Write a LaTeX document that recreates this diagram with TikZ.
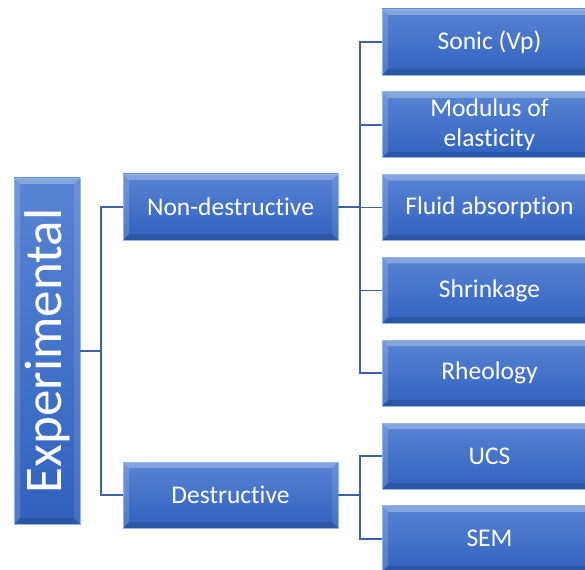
\documentclass[tikz,border=0pt]{standalone}
\usepackage{fontspec}
\setmainfont{Carlito}[Ligatures=NoCommon]
\usepackage{graphicx}
\usetikzlibrary{positioning}

\definecolor{boxtop}{RGB}{88,132,212}
\definecolor{boxbot}{RGB}{48,98,190}
\definecolor{boxrim}{RGB}{150,180,228}
\definecolor{linkblue}{RGB}{62,98,168}

\begin{document}
\begin{tikzpicture}[x=1pt, y=-1pt, node distance=16pt,
  box/.style={draw=boxrim, line width=0.8pt, top color=boxtop, bottom color=boxbot,
    text=white, align=center, inner sep=0pt, minimum width=215pt, minimum height=66pt,
    font=\fontsize{25.5}{30}\selectfont,
    path picture={
      \coordinate (nw) at (path picture bounding box.north west);
      \coordinate (ne) at (path picture bounding box.north east);
      \coordinate (sw) at (path picture bounding box.south west);
      \coordinate (se) at (path picture bounding box.south east);
      \fill[white, opacity=.28] (nw) -- (ne) -- ([shift={(-6pt,-6pt)}]ne) -- ([shift={(6pt,-6pt)}]nw) -- cycle;
      \fill[white, opacity=.16] (nw) -- (sw) -- ([shift={(6pt,6pt)}]sw) -- ([shift={(6pt,-6pt)}]nw) -- cycle;
      \fill[black, opacity=.12] (sw) -- (se) -- ([shift={(-6pt,6pt)}]se) -- ([shift={(6pt,6pt)}]sw) -- cycle;
      \fill[white, opacity=.10] (ne) -- (se) -- ([shift={(-6pt,6pt)}]se) -- ([shift={(-6pt,-6pt)}]ne) -- cycle;
    }},
  link/.style={draw=linkblue, line width=1.6pt}]
\useasboundingbox (0,0) rectangle (585,569);

% root
\node[box, minimum width=66pt, minimum height=346pt, font=\fontsize{53}{60}\selectfont]
  (expt) at (47,351) {\rotatebox{90}{Experimental}};

% second level
\node[box] (nd) at (230.5,207) {Non-destructive};
\node[box] (dest) at (230.5,495) {Destructive};

% tests
\node[box] (sonic) at (489.5,42) {Sonic (Vp)};
\node[box, below=of sonic] (mod) {Modulus of\\ elasticity};
\node[box, below=of mod] (fluid) {Fluid absorption};
\node[box, below=of fluid] (shrink) {Shrinkage};
\node[box, below=of shrink] (rheo) {Rheology};
\node[box, below=of rheo] (ucs) {UCS};
\node[box, below=of ucs] (sem) {SEM};

\coordinate (j1) at (101,351);
\coordinate (j2) at (360,207);
\coordinate (j3) at (360,495);

\draw[link] (expt.east) -- (j1) |- (nd.west);
\draw[link] (j1) |- (dest.west);
\draw[link] (nd.east) -- (j2);
\draw[link] (dest.east) -- (j3);
\foreach \t in {sonic,mod,fluid,shrink,rheo}
  \draw[link] (j2) |- (\t.west);
\foreach \t in {ucs,sem}
  \draw[link] (j3) |- (\t.west);
\end{tikzpicture}
\end{document}
